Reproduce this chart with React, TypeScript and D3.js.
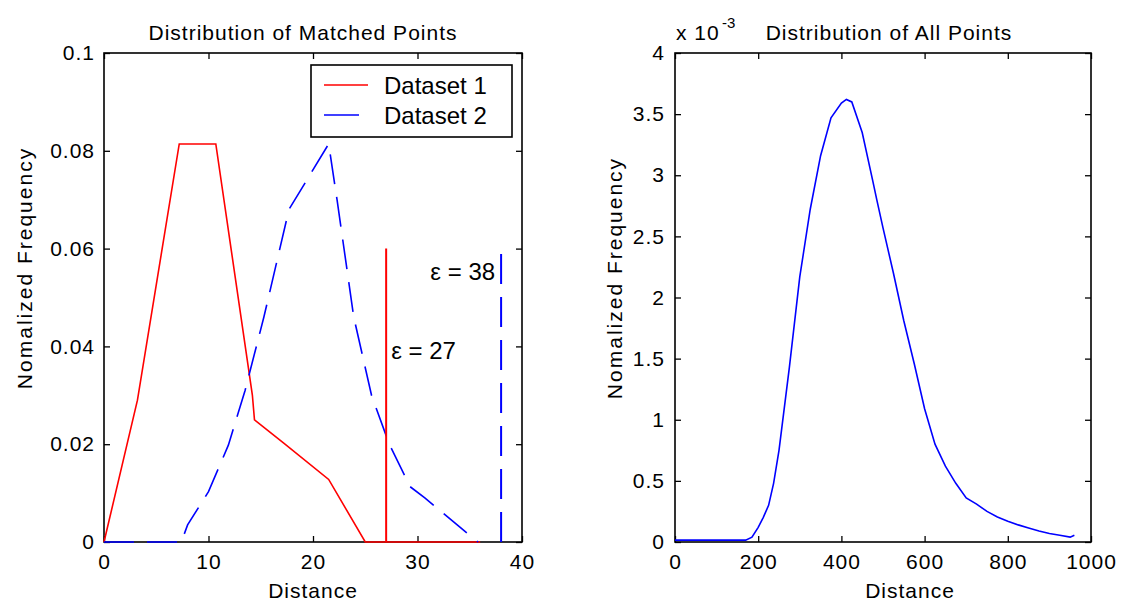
import React, { useEffect, useRef } from "react";
import * as d3 from "d3";

// left panel: matched points
const matchedDist1 = [0, 3.2, 7.2, 10.7, 14.2, 14.4, 17.2, 21.5, 25.0, 36];
const matchedFreq1 = [0, 0.029, 0.0814, 0.0814, 0.03, 0.025, 0.0202, 0.0128, 0, 0];
const matchedDist2 = [0, 7.4, 8.0, 10.0, 11.9, 13.5, 15.3, 17.7, 21.5, 22.3, 23.9, 25.6, 27.3, 29.3, 30.7, 33.8, 35.1, 35.8];
const matchedFreq2 = [0, 0, 0.0035, 0.0103, 0.0198, 0.031, 0.046, 0.068, 0.0814, 0.07, 0.046, 0.03, 0.02, 0.0113, 0.009, 0.0035, 0.0012, 0];
const epsilons = [27, 38];
const epsHeight = 0.06;
const legendNames = ["Dataset 1", "Dataset 2"];
const leftXTicks = [0, 10, 20, 30, 40];
const leftYTicks = [0, 0.02, 0.04, 0.06, 0.08, 0.1];
const leftYTickLabels = ["0", "0.02", "0.04", "0.06", "0.08", "0.1"];

// right panel: all points (values in units of 1e-3)
const allDist = [0, 170, 185, 200, 212, 225, 237, 250, 275, 300, 325, 350, 375, 400, 412, 425, 450, 475, 485, 500, 525, 550, 575, 600, 625, 650, 675, 700, 725, 750, 775, 800, 825, 850, 875, 900, 925, 950, 960];
const allFreq = [0.015, 0.015, 0.04, 0.12, 0.2, 0.3, 0.48, 0.75, 1.43, 2.17, 2.72, 3.16, 3.47, 3.59, 3.62, 3.6, 3.35, 2.96, 2.8, 2.57, 2.2, 1.81, 1.46, 1.09, 0.8, 0.62, 0.48, 0.36, 0.31, 0.25, 0.205, 0.17, 0.14, 0.115, 0.09, 0.07, 0.055, 0.04, 0.055];
const rightXTicks = [0, 200, 400, 600, 800, 1000];
const rightYTicks = [0, 0.5, 1, 1.5, 2, 2.5, 3, 3.5, 4];
const rightYTickLabels = ["0", "0.5", "1", "1.5", "2", "2.5", "3", "3.5", "4"];

const W = 1128;
const H = 605;
const FONT = "Arial, 'Liberation Sans', Helvetica, sans-serif";
const RED = "#ff0000";
const BLUE = "#0000ff";
const DASH = "30,13";

function drawFrame(g, x, y, xTicks, yTicks, yLabels, yPad) {
  const [x0, x1] = x.range();
  const [y0, y1] = y.range();
  const bottom = g
    .append("g")
    .attr("transform", `translate(0,${y0})`)
    .call(d3.axisBottom(x).tickValues(xTicks).tickSizeInner(-6).tickSizeOuter(0).tickPadding(12).tickFormat(d3.format("d")));
  const left = g
    .append("g")
    .attr("transform", `translate(${x0},0)`)
    .call(d3.axisLeft(y).tickValues(yTicks).tickSizeInner(-6).tickSizeOuter(0).tickPadding(yPad).tickFormat((d, i) => yLabels[i]));
  g.append("g")
    .attr("transform", `translate(0,${y1})`)
    .call(d3.axisTop(x).tickValues(xTicks).tickSizeInner(-6).tickSizeOuter(0).tickFormat(() => ""));
  g.append("g")
    .attr("transform", `translate(${x1},0)`)
    .call(d3.axisRight(y).tickValues(yTicks).tickSizeInner(-6).tickSizeOuter(0).tickFormat(() => ""));
  g.selectAll(".domain").remove();
  g.selectAll(".tick line").attr("stroke", "#000").attr("stroke-width", 1.3);
  [bottom, left].forEach(a =>
    a.selectAll("text").attr("font-family", FONT).attr("font-size", 21).attr("fill", "#000").attr("letter-spacing", 1)
  );
  g.append("rect")
    .attr("x", x0)
    .attr("y", y1)
    .attr("width", x1 - x0)
    .attr("height", y0 - y1)
    .attr("fill", "none")
    .attr("stroke", "#000")
    .attr("stroke-width", 1.6);
}

function label(g, text, xPos, yPos, opts = {}) {
  const t = g
    .append("text")
    .attr("x", xPos)
    .attr("y", yPos)
    .attr("font-family", FONT)
    .attr("font-size", opts.size || 21)
    .attr("letter-spacing", opts.ls == null ? 1 : opts.ls)
    .attr("text-anchor", opts.anchor || "middle")
    .attr("fill", "#000")
    .text(text);
  if (opts.rotate) t.attr("transform", `rotate(-90,${xPos},${yPos})`);
  return t;
}

export default function App() {
  const ref = useRef(null);

  useEffect(() => {
    document.body.style.margin = "0";
    const svg = d3.select(ref.current);
    svg.selectAll("*").remove();
    svg.append("rect").attr("width", W).attr("height", H).attr("fill", "#fff");

    // ---- left panel
    const gl = svg.append("g");
    const xl = d3.scaleLinear().domain([0, 40]).range([104, 522]);
    const yl = d3.scaleLinear().domain([0, 0.1]).range([542, 53]);
    drawFrame(gl, xl, yl, leftXTicks, leftYTicks, leftYTickLabels, 9);

    const lineL = d3.line().x(d => xl(d[0])).y(d => yl(d[1]));
    const s1 = matchedDist1.map((d, i) => [d, matchedFreq1[i]]);
    const s2 = matchedDist2.map((d, i) => [d, matchedFreq2[i]]);
    gl.append("path").datum(s1).attr("d", lineL).attr("fill", "none").attr("stroke", RED).attr("stroke-width", 1.6);
    gl.append("path").datum(s2).attr("d", lineL).attr("fill", "none").attr("stroke", BLUE).attr("stroke-width", 1.6).attr("stroke-dasharray", DASH);

    // epsilon thresholds
    gl.append("line")
      .attr("x1", xl(epsilons[0])).attr("x2", xl(epsilons[0]))
      .attr("y1", yl(0)).attr("y2", yl(epsHeight))
      .attr("stroke", RED).attr("stroke-width", 2);
    gl.append("line")
      .attr("x1", xl(epsilons[1])).attr("x2", xl(epsilons[1]))
      .attr("y1", yl(0)).attr("y2", yl(epsHeight))
      .attr("stroke", BLUE).attr("stroke-width", 2).attr("stroke-dasharray", DASH);
    label(gl, `\u03b5 = ${epsilons[0]}`, xl(epsilons[0]) + 5, yl(0.0375), { anchor: "start", size: 24, ls: 0 });
    label(gl, `\u03b5 = ${epsilons[1]}`, xl(epsilons[1]) - 6, yl(0.0535), { anchor: "end", size: 24, ls: 0 });

    // legend
    const lg = gl.append("g");
    lg.append("rect").attr("x", 311).attr("y", 65).attr("width", 201).attr("height", 72)
      .attr("fill", "#fff").attr("stroke", "#000").attr("stroke-width", 1.6);
    legendNames.forEach((name, i) => {
      const cy = 85 + i * 30;
      lg.append("line").attr("x1", 324).attr("x2", 368).attr("y1", cy).attr("y2", cy)
        .attr("stroke", i === 0 ? RED : BLUE).attr("stroke-width", 1.6)
        .attr("stroke-dasharray", i === 0 ? null : "35,12");
      label(lg, name, 384, cy + 9, { anchor: "start", size: 24, ls: 0 });
    });

    label(gl, "Distribution of Matched Points", 303, 40);
    label(gl, "Distance", 313, 598);
    label(gl, "Nomalized Frequency", 32, 268, { rotate: true, ls: 2 });

    // ---- right panel
    const gr = svg.append("g");
    const xr = d3.scaleLinear().domain([0, 1000]).range([675, 1091]);
    const yr = d3.scaleLinear().domain([0, 4]).range([542, 53]);
    drawFrame(gr, xr, yr, rightXTicks, rightYTicks, rightYTickLabels, 10);

    const lineR = d3.line().x((d, i) => xr(allDist[i])).y(d => yr(d));
    gr.append("path").datum(allFreq).attr("d", lineR).attr("fill", "none").attr("stroke", BLUE).attr("stroke-width", 1.6);

    label(gr, "x 10", 676, 40, { anchor: "start" });
    label(gr, "-3", 722, 28, { anchor: "start", size: 15, ls: 0 });
    label(gr, "Distribution of All Points", 889, 40);
    label(gr, "Distance", 910, 598);
    label(gr, "Nomalized Frequency", 622, 278, { rotate: true, ls: 2 });
  }, []);

  return <svg ref={ref} width={W} height={H} style={{ display: "block" }} />;
}
